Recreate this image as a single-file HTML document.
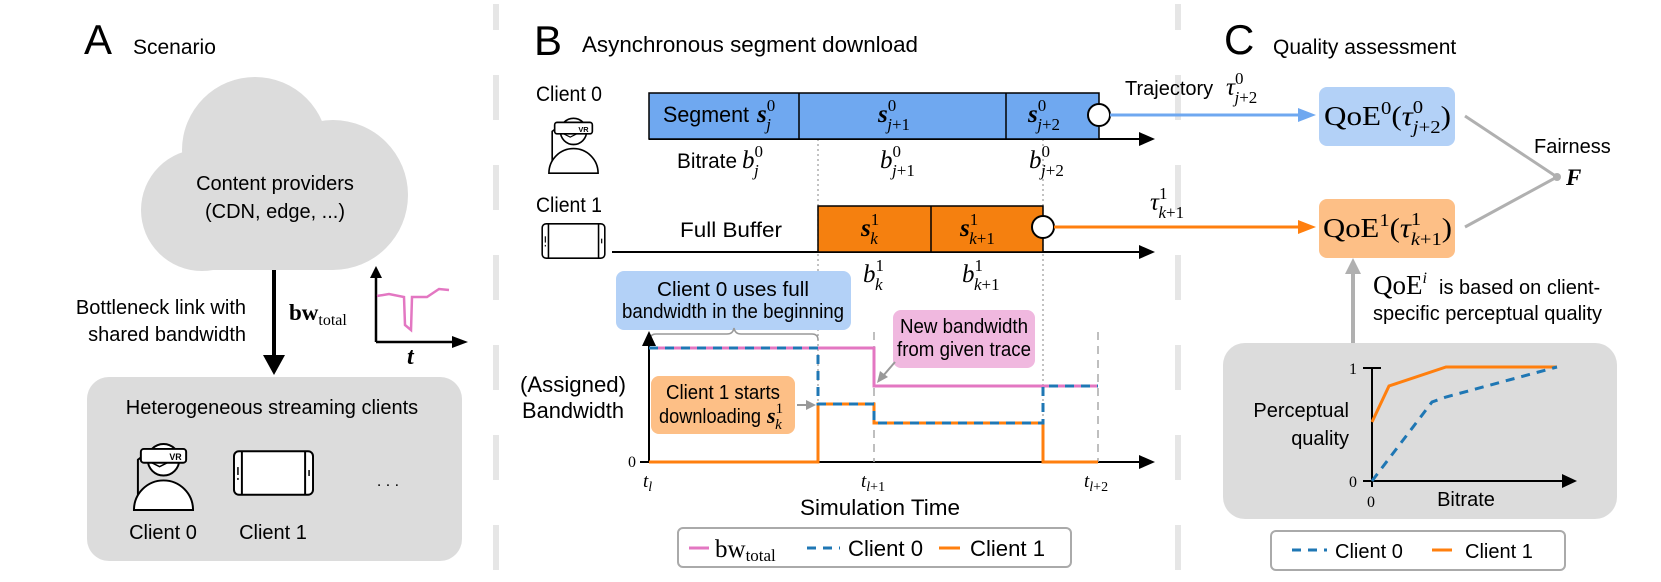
<!DOCTYPE html>
<html><head><meta charset="utf-8"><style>
html,body{margin:0;padding:0;background:#fff;}
svg{display:block;}
.s{font-family:"Liberation Sans",sans-serif;}
.n{font-family:"Liberation Sans Narrow","Liberation Sans",sans-serif;}
.m{font-family:"Liberation Serif",serif;}
.mi{font-family:"Liberation Serif",serif;font-style:italic;}
.mb{font-family:"Liberation Serif",serif;font-style:italic;font-weight:bold;}
.up{font-style:normal;font-weight:normal;}
.it{font-style:italic;font-weight:normal;}
</style></head><body>
<svg width="1661" height="582" viewBox="0 0 1661 582" xmlns="http://www.w3.org/2000/svg">
<defs>
<symbol id="vr" viewBox="0 0 64 72">
 <path d="M10,17 L6,20 L6,56" fill="none" stroke="#000" stroke-width="2"/>
 <path d="M2,71 A30,30 0 0 1 62,71 Z" fill="#fff" stroke="#000" stroke-width="2"/>
 <circle cx="32" cy="20" r="16" fill="#fff" stroke="#000" stroke-width="2"/>
 <rect x="9" y="9" width="46" height="14" rx="3" fill="#fff" stroke="#000" stroke-width="2"/>
 <path d="M20,23 L28,27 L36,23" fill="none" stroke="#000" stroke-width="1.5"/>
 <text x="38" y="20.5" font-family="Liberation Sans" font-weight="bold" font-size="9">VR</text>
</symbol>
<symbol id="tab" viewBox="0 0 82 46">
 <rect x="1" y="1" width="80" height="44" rx="5" fill="#fff" stroke="#000" stroke-width="2"/>
 <line x1="9" y1="1" x2="9" y2="45" stroke="#000" stroke-width="2"/>
 <line x1="73" y1="1" x2="73" y2="45" stroke="#000" stroke-width="2"/>
 <line x1="5" y1="17" x2="5" y2="25" stroke="#000" stroke-width="1.5"/>
 <line x1="5" y1="28" x2="5" y2="30" stroke="#000" stroke-width="1.5"/>
 <line x1="77" y1="20" x2="77" y2="26" stroke="#000" stroke-width="1.5"/>
</symbol>
</defs>

<g stroke="#e6e6e6" stroke-width="6">
<line x1="496" y1="4" x2="496" y2="582" stroke-dasharray="26 45 45 45 45 45 45 45 45 45 45 45 45 45"/>
<line x1="1178" y1="4" x2="1178" y2="582" stroke-dasharray="26 45 45 45 45 45 45 45 45 45 45 45 45 45"/>
</g>

<!-- ============ PANEL A ============ -->
<text x="84" y="54" class="s" font-size="42">A</text>
<text x="133" y="54" class="s" font-size="21">Scenario</text>
<g fill="#dcdcdc">
<circle cx="255" cy="150" r="73"/>
<circle cx="202" cy="210" r="61"/>
<circle cx="333" cy="195" r="75"/>
<rect x="202" y="190" width="131" height="80"/>
</g>
<text x="275" y="190" class="s" font-size="20" text-anchor="middle">Content providers</text>
<text x="275" y="218" class="s" font-size="20" text-anchor="middle">(CDN, edge, ...)</text>
<line x1="274" y1="270" x2="274" y2="358" stroke="#000" stroke-width="4"/>
<path d="M263,355 L285,355 L274,375 Z" fill="#000"/>
<text x="246" y="314" class="s" font-size="20" text-anchor="end">Bottleneck link with</text>
<text x="246" y="341" class="s" font-size="20" text-anchor="end">shared bandwidth</text>
<text x="289" y="320" class="m" font-size="23" font-weight="bold">bw<tspan font-size="16" dy="5" font-weight="normal">total</tspan></text>
<line x1="376" y1="275" x2="376" y2="342" stroke="#000" stroke-width="2.5"/>
<path d="M370,278 L382,278 L376,266 Z" fill="#000"/>
<line x1="376" y1="342" x2="455" y2="342" stroke="#000" stroke-width="2.5"/>
<path d="M452,336 L468,342 L452,348 Z" fill="#000"/>
<polyline points="377,296 389,294 404,297 405,325 411,330 412,297 427,297 439,289 449,290" fill="none" stroke="#e377c2" stroke-width="2.5"/>
<text x="407" y="364" class="mb" font-size="24">t</text>
<rect x="87" y="377" width="375" height="184" rx="22" fill="#dcdcdc"/>
<text x="272" y="414" class="s" font-size="20" text-anchor="middle">Heterogeneous streaming clients</text>
<use href="#vr" x="132" y="440" width="63" height="71"/>
<use href="#tab" x="233" y="450" width="81" height="46"/>
<text x="388" y="486" class="s" font-size="16" text-anchor="middle">. . .</text>
<text x="163" y="539" class="s" font-size="20" text-anchor="middle">Client 0</text>
<text x="273" y="539" class="s" font-size="20" text-anchor="middle">Client 1</text>

<!-- ============ PANEL B ============ -->
<text x="534" y="55" class="s" font-size="42">B</text>
<text x="582" y="52" class="n" font-size="22" textLength="336" lengthAdjust="spacingAndGlyphs">Asynchronous segment download</text>
<text x="536" y="101" class="n" font-size="21" textLength="66" lengthAdjust="spacingAndGlyphs">Client 0</text>
<use href="#vr" x="547" y="115" width="53" height="59"/>
<text x="536" y="212" class="n" font-size="21" textLength="66" lengthAdjust="spacingAndGlyphs">Client 1</text>
<use href="#tab" x="540" y="223" width="67" height="36"/>

<g stroke="#999" stroke-width="1.2" stroke-dasharray="2 3">
<line x1="818" y1="139" x2="818" y2="462"/>
<line x1="1043" y1="139" x2="1043" y2="462"/>
</g>

<line x1="649" y1="139" x2="1142" y2="139" stroke="#000" stroke-width="2"/>
<path d="M1139,132 L1155,139 L1139,146 Z" fill="#000"/>
<rect x="649" y="93" width="450" height="46" fill="#6fa8f0" stroke="#000" stroke-width="1.5"/>
<line x1="799" y1="93" x2="799" y2="139" stroke="#000" stroke-width="1.5"/>
<line x1="1006" y1="93" x2="1006" y2="139" stroke="#000" stroke-width="1.5"/>
<text x="663" y="122" class="n" font-size="22" textLength="86" lengthAdjust="spacingAndGlyphs">Segment</text>
<text x="757" y="122" class="mb" font-size="25">s<tspan class="up" font-size="17" dy="-11">0</tspan><tspan class="it" font-size="17" dx="-9" dy="19">j</tspan></text>
<text x="878" y="122" class="mb" font-size="25">s<tspan class="up" font-size="17" dy="-11">0</tspan><tspan class="it" font-size="17" dx="-9" dy="19">j</tspan><tspan class="up" font-size="17">+1</tspan></text>
<text x="1028" y="122" class="mb" font-size="25">s<tspan class="up" font-size="17" dy="-11">0</tspan><tspan class="it" font-size="17" dx="-9" dy="19">j</tspan><tspan class="up" font-size="17">+2</tspan></text>
<circle cx="1099" cy="115" r="11" fill="#fff" stroke="#000" stroke-width="2"/>

<text x="677" y="168" class="n" font-size="21" textLength="60" lengthAdjust="spacingAndGlyphs">Bitrate</text>
<text x="742" y="168" class="mi" font-size="25">b<tspan class="up" font-size="17" dy="-11">0</tspan><tspan class="it" font-size="17" dx="-9" dy="19">j</tspan></text>
<text x="880" y="168" class="mi" font-size="25">b<tspan class="up" font-size="17" dy="-11">0</tspan><tspan class="it" font-size="17" dx="-9" dy="19">j</tspan><tspan class="up" font-size="17">+1</tspan></text>
<text x="1029" y="168" class="mi" font-size="25">b<tspan class="up" font-size="17" dy="-11">0</tspan><tspan class="it" font-size="17" dx="-9" dy="19">j</tspan><tspan class="up" font-size="17">+2</tspan></text>

<line x1="612" y1="252" x2="1142" y2="252" stroke="#000" stroke-width="2"/>
<path d="M1139,245 L1155,252 L1139,259 Z" fill="#000"/>
<rect x="818" y="206" width="225" height="46" fill="#f5800f" stroke="#000" stroke-width="1.5"/>
<line x1="931" y1="206" x2="931" y2="252" stroke="#000" stroke-width="1.5"/>
<text x="731" y="237" class="n" font-size="21" text-anchor="middle" textLength="102" lengthAdjust="spacingAndGlyphs">Full Buffer</text>
<text x="861" y="236" class="mb" font-size="25">s<tspan class="up" font-size="17" dy="-11">1</tspan><tspan class="it" font-size="17" dx="-9" dy="19">k</tspan></text>
<text x="960" y="236" class="mb" font-size="25">s<tspan class="up" font-size="17" dy="-11">1</tspan><tspan class="it" font-size="17" dx="-9" dy="19">k</tspan><tspan class="up" font-size="17">+1</tspan></text>
<circle cx="1043" cy="227" r="11" fill="#fff" stroke="#000" stroke-width="2"/>
<text x="863" y="282" class="mi" font-size="25">b<tspan class="up" font-size="17" dy="-11">1</tspan><tspan class="it" font-size="17" dx="-9" dy="19">k</tspan></text>
<text x="962" y="282" class="mi" font-size="25">b<tspan class="up" font-size="17" dy="-11">1</tspan><tspan class="it" font-size="17" dx="-9" dy="19">k</tspan><tspan class="up" font-size="17">+1</tspan></text>

<line x1="1110" y1="115" x2="1304" y2="115" stroke="#6fa8f0" stroke-width="3"/>
<path d="M1298,108 L1316,115 L1298,122 Z" fill="#6fa8f0"/>
<line x1="1054" y1="227" x2="1304" y2="227" stroke="#ff7f0e" stroke-width="3"/>
<path d="M1298,220 L1316,227 L1298,234 Z" fill="#ff7f0e"/>
<text x="1125" y="95" class="s" font-size="20">Trajectory</text>
<text x="1226" y="95" class="mi" font-size="25">τ<tspan class="up" font-size="17" dy="-11">0</tspan><tspan class="it" font-size="17" dx="-9" dy="19">j</tspan><tspan class="up" font-size="17">+2</tspan></text>
<text x="1150" y="210" class="mi" font-size="25">τ<tspan class="up" font-size="17" dy="-11">1</tspan><tspan class="it" font-size="17" dx="-9" dy="19">k</tspan><tspan class="up" font-size="17">+1</tspan></text>

<rect x="616" y="271" width="235" height="59" rx="8" fill="#b3d1f7"/>
<text x="733" y="296" class="n" font-size="20" text-anchor="middle" textLength="152" lengthAdjust="spacingAndGlyphs">Client 0 uses full</text>
<text x="733" y="318" class="n" font-size="20" text-anchor="middle" textLength="222" lengthAdjust="spacingAndGlyphs">bandwidth in the beginning</text>
<path d="M650,340 Q650,334 656,334 L727,334 Q733,334 734,328 Q735,334 741,334 L812,334 Q818,334 818,340" fill="none" stroke="#999" stroke-width="1.5"/>

<line x1="649" y1="462" x2="649" y2="344" stroke="#000" stroke-width="2"/>
<path d="M642,346 L649,331 L656,346 Z" fill="#000"/>
<line x1="640" y1="462" x2="1142" y2="462" stroke="#000" stroke-width="2"/>
<path d="M1139,455 L1155,462 L1139,469 Z" fill="#000"/>
<text x="628" y="467" class="m" font-size="16">0</text>
<g stroke="#aaa" stroke-width="1.5" stroke-dasharray="8 6">
<line x1="874" y1="332" x2="874" y2="462"/>
<line x1="1098" y1="332" x2="1098" y2="462"/>
</g>
<polyline points="649,348 874,348 874,386 1098,386" fill="none" stroke="#e377c2" stroke-width="3"/>
<polyline points="649,462 818,462 818,404 874,404 874,423 1043,423 1043,462 1098,462" fill="none" stroke="#ff7f0e" stroke-width="3"/>
<polyline points="649,348 818,348 818,404 874,404 874,423 1043,423 1043,386 1098,386" fill="none" stroke="#1f77b4" stroke-width="3" stroke-dasharray="9 7"/>
<text x="643" y="487" class="mi" font-size="19">t<tspan font-size="14" dy="4">l</tspan></text>
<text x="861" y="487" class="mi" font-size="19">t<tspan font-size="14" dy="4">l<tspan class="up">+1</tspan></tspan></text>
<text x="1084" y="487" class="mi" font-size="19">t<tspan font-size="14" dy="4">l<tspan class="up">+2</tspan></tspan></text>
<text x="880" y="515" class="n" font-size="22" text-anchor="middle" textLength="160" lengthAdjust="spacingAndGlyphs">Simulation Time</text>
<text x="573" y="392" class="n" font-size="22" text-anchor="middle" textLength="106" lengthAdjust="spacingAndGlyphs">(Assigned)</text>
<text x="573" y="418" class="n" font-size="22" text-anchor="middle" textLength="102" lengthAdjust="spacingAndGlyphs">Bandwidth</text>

<rect x="651" y="376" width="144" height="58" rx="8" fill="#fdbf86"/>
<text x="723" y="399" class="n" font-size="20" text-anchor="middle" textLength="114" lengthAdjust="spacingAndGlyphs">Client 1 starts</text>
<text x="659" y="423" class="n" font-size="20" textLength="102" lengthAdjust="spacingAndGlyphs">downloading</text>
<text x="767" y="423" class="mb" font-size="22">s<tspan class="up" font-size="15" dy="-10">1</tspan><tspan class="it" font-size="15" dx="-8" dy="16">k</tspan></text>
<line x1="797" y1="405" x2="808" y2="405" stroke="#999" stroke-width="2"/>
<path d="M806,400 L816,405 L806,410 Z" fill="#999"/>

<rect x="893" y="310" width="142" height="58" rx="8" fill="#f0b8df"/>
<text x="964" y="333" class="n" font-size="20" text-anchor="middle" textLength="128" lengthAdjust="spacingAndGlyphs">New bandwidth</text>
<text x="964" y="356" class="n" font-size="20" text-anchor="middle" textLength="134" lengthAdjust="spacingAndGlyphs">from given trace</text>
<line x1="895" y1="362" x2="883" y2="376" stroke="#999" stroke-width="2"/>
<path d="M877,383 L880,371 L888,377 Z" fill="#999"/>

<rect x="678" y="528" width="393" height="39" rx="5" fill="#fff" stroke="#aaa" stroke-width="2"/>
<line x1="689" y1="548" x2="709" y2="548" stroke="#e377c2" stroke-width="3"/>
<text x="715" y="557" class="m" font-size="25">bw<tspan font-size="17" dy="4">total</tspan></text>
<line x1="807" y1="548" x2="840" y2="548" stroke="#1f77b4" stroke-width="3" stroke-dasharray="9 7"/>
<text x="848" y="556" class="n" font-size="22" textLength="75" lengthAdjust="spacingAndGlyphs">Client 0</text>
<line x1="939" y1="548" x2="960" y2="548" stroke="#ff7f0e" stroke-width="3"/>
<text x="970" y="556" class="n" font-size="22" textLength="75" lengthAdjust="spacingAndGlyphs">Client 1</text>

<!-- ============ PANEL C ============ -->
<text x="1224" y="54" class="s" font-size="42">C</text>
<text x="1273" y="54" class="s" font-size="21">Quality assessment</text>
<rect x="1319" y="87" width="136" height="59" rx="8" fill="#b3d1f7"/>
<text x="1324" y="125" class="m" font-size="27" textLength="127" lengthAdjust="spacingAndGlyphs">QoE<tspan font-size="18" dy="-11">0</tspan><tspan dy="11">(</tspan><tspan font-style="italic">τ</tspan><tspan font-size="18" dy="-12">0</tspan><tspan font-size="18" font-style="italic" dx="-9" dy="20">j</tspan><tspan font-size="18">+2</tspan><tspan dy="-8">)</tspan></text>
<rect x="1319" y="199" width="136" height="59" rx="8" fill="#fdbf86"/>
<text x="1323" y="237" class="m" font-size="27" textLength="129" lengthAdjust="spacingAndGlyphs">QoE<tspan font-size="18" dy="-11">1</tspan><tspan dy="11">(</tspan><tspan font-style="italic">τ</tspan><tspan font-size="18" dy="-12">1</tspan><tspan font-size="18" font-style="italic" dx="-9" dy="20">k</tspan><tspan font-size="18">+1</tspan><tspan dy="-8">)</tspan></text>
<polyline points="1465,116 1557,177 1465,227" fill="none" stroke="#b0b0b0" stroke-width="3"/>
<circle cx="1557" cy="177" r="4" fill="#b0b0b0"/>
<text x="1534" y="153" class="s" font-size="20">Fairness</text>
<text x="1566" y="185" class="mb" font-size="23">F</text>
<line x1="1353" y1="349" x2="1353" y2="272" stroke="#b0b0b0" stroke-width="4"/>
<path d="M1345,274 L1353,258 L1361,274 Z" fill="#b0b0b0"/>
<text x="1373" y="294" class="m" font-size="27">QoE<tspan font-size="16" dy="-11" font-style="italic">i</tspan></text>
<text x="1439" y="294" class="s" font-size="20">is based on client-</text>
<text x="1373" y="320" class="s" font-size="20">specific perceptual quality</text>

<rect x="1223" y="343" width="394" height="176" rx="22" fill="#dcdcdc"/>
<text x="1349" y="417" class="s" font-size="20" text-anchor="end">Perceptual</text>
<text x="1349" y="445" class="s" font-size="20" text-anchor="end">quality</text>
<line x1="1372" y1="368" x2="1372" y2="487" stroke="#000" stroke-width="2"/>
<line x1="1363" y1="368" x2="1381" y2="368" stroke="#000" stroke-width="2"/>
<line x1="1363" y1="481" x2="1565" y2="481" stroke="#000" stroke-width="2"/>
<path d="M1562,474 L1577,481 L1562,488 Z" fill="#000"/>
<text x="1349" y="374" class="m" font-size="16">1</text>
<text x="1349" y="487" class="m" font-size="16">0</text>
<text x="1367" y="507" class="m" font-size="16">0</text>
<text x="1466" y="506" class="s" font-size="20" text-anchor="middle">Bitrate</text>
<polyline points="1372,422 1389,386 1446,367 1557,367" fill="none" stroke="#ff7f0e" stroke-width="3"/>
<polyline points="1372,481 1432,402 1446,397 1557,367" fill="none" stroke="#1f77b4" stroke-width="3" stroke-dasharray="9 7"/>

<rect x="1271" y="531" width="294" height="39" rx="5" fill="#fff" stroke="#aaa" stroke-width="2"/>
<line x1="1292" y1="550" x2="1327" y2="550" stroke="#1f77b4" stroke-width="3" stroke-dasharray="9 7"/>
<text x="1335" y="558" class="s" font-size="20">Client 0</text>
<line x1="1432" y1="550" x2="1452" y2="550" stroke="#ff7f0e" stroke-width="3"/>
<text x="1465" y="558" class="s" font-size="20">Client 1</text>
</svg>
</body></html>
